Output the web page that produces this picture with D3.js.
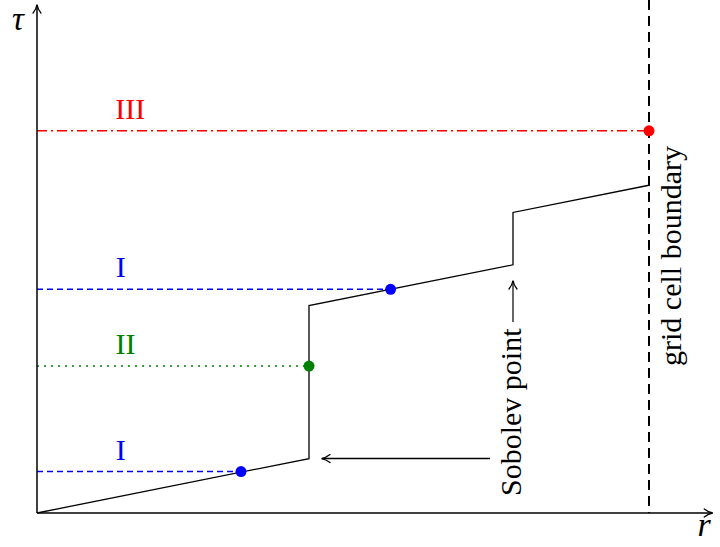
<!DOCTYPE html>
<html>
<head>
<meta charset="utf-8">
<script src="https://cdn.jsdelivr.net/npm/d3@7"></script>
<style>
html,body{margin:0;padding:0;background:#fff;}
svg{display:block;}
</style>
</head>
<body>
<div id="chart"></div>
<script>
// ---- data (in chart units) ----
const curveR   = [0, 4, 4, 7, 7, 9];
const curveTau = [0, 0.8, 3.05, 3.65, 4.42, 4.82];

const levelNames  = ["I", "II", "I", "III"];
const levelTau    = [0.61, 2.16, 3.29, 5.62];
const levelEndR   = [3, 4, 5.2, 9];
const levelColors = ["#0000ff", "#008000", "#0000ff", "#ff0000"];
const levelStyles = ["dashed", "dotted", "dashed", "dashdot"];
const labelR      = [1.23, 1.3, 1.23, 1.37];

const boundaryR = 9;
const sobolevR  = [4, 7];

const W = 720, H = 547;
const x = d3.scaleLinear().domain([0, 10]).range([37, 717]);
const y = d3.scaleLinear().domain([0, 7.5]).range([513, 3]);

const svg = d3.select("#chart").append("svg").attr("width", W).attr("height", H);
const FONT = "Liberation Serif";

const dashMap = {dashed: "6,4", dotted: "2,5", dashdot: "10,4,2,4"};

// horizontal level lines
levelTau.forEach((t, i) => {
  svg.append("line")
    .attr("x1", x(0)).attr("x2", x(levelEndR[i]))
    .attr("y1", y(t)).attr("y2", y(t))
    .attr("stroke", levelColors[i]).attr("stroke-width", 1.5)
    .attr("stroke-dasharray", dashMap[levelStyles[i]]);
  svg.append("text")
    .attr("x", x(labelR[i])).attr("y", y(t) - 12)
    .attr("text-anchor", "middle")
    .attr("font-family", FONT).attr("font-size", 30)
    .attr("fill", levelColors[i]).text(levelNames[i]);
});

// grid cell boundary
svg.append("line")
  .attr("x1", x(boundaryR)).attr("x2", x(boundaryR))
  .attr("y1", 0).attr("y2", y(0))
  .attr("stroke", "#000").attr("stroke-width", 2)
  .attr("stroke-dasharray", "10,6");

// tau curve
const pts = curveR.map((r, i) => [r, curveTau[i]]);
svg.append("path")
  .attr("d", d3.line().x(d => x(d[0])).y(d => y(d[1]))(pts))
  .attr("fill", "none").attr("stroke", "#000").attr("stroke-width", 1.3);

// axes with arrows
const defs = svg.append("defs");
defs.append("marker").attr("id", "arr")
  .attr("viewBox", "0 0 10 10").attr("refX", 9).attr("refY", 5)
  .attr("markerWidth", 10).attr("markerHeight", 10)
  .attr("markerUnits", "userSpaceOnUse").attr("orient", "auto")
  .append("path").attr("d", "M1,1 Q5,4.2 9.5,5 Q5,5.8 1,9")
  .attr("fill", "none").attr("stroke", "#000").attr("stroke-width", 1.3)
  .attr("stroke-linecap", "round");

svg.append("line")
  .attr("x1", x(0)).attr("x2", x(9.93))
  .attr("y1", y(0)).attr("y2", y(0))
  .attr("stroke", "#000").attr("stroke-width", 1.5)
  .attr("marker-end", "url(#arr)");
svg.append("line")
  .attr("x1", x(0)).attr("x2", x(0))
  .attr("y1", y(0)).attr("y2", y(7.47))
  .attr("stroke", "#000").attr("stroke-width", 1.5)
  .attr("marker-end", "url(#arr)");

// axis labels
svg.append("text").attr("x", 18).attr("y", 30)
  .attr("text-anchor", "middle").attr("font-family", FONT)
  .attr("font-style", "italic").attr("font-size", 33).text("τ");
svg.append("text").attr("x", 704).attr("y", 536)
  .attr("text-anchor", "middle").attr("font-family", FONT)
  .attr("font-style", "italic").attr("font-size", 34).text("r");

// dots
levelTau.forEach((t, i) => {
  svg.append("circle")
    .attr("cx", x(levelEndR[i])).attr("cy", y(t)).attr("r", 5.5)
    .attr("fill", levelColors[i]);
});

// Sobolev point annotations
svg.append("line")
  .attr("x1", 490).attr("x2", x(sobolevR[0]) + 13)
  .attr("y1", y(curveTau[1])).attr("y2", y(curveTau[1]))
  .attr("stroke", "#000").attr("stroke-width", 1.5)
  .attr("marker-end", "url(#arr)");

svg.append("text")
  .attr("transform", `translate(${x(sobolevR[1]) + 8},${496}) rotate(-90)`)
  .attr("font-family", FONT).attr("font-size", 30).text("Sobolev point");

svg.append("line")
  .attr("x1", x(sobolevR[1])).attr("x2", x(sobolevR[1]))
  .attr("y1", 322).attr("y2", 281)
  .attr("stroke", "#000").attr("stroke-width", 1.2)
  .attr("marker-end", "url(#arr)");

svg.append("text")
  .attr("transform", `translate(${x(boundaryR) + 32},${366}) rotate(-90)`)
  .attr("font-family", FONT).attr("font-size", 30).text("grid cell boundary");
</script>
</body>
</html>
